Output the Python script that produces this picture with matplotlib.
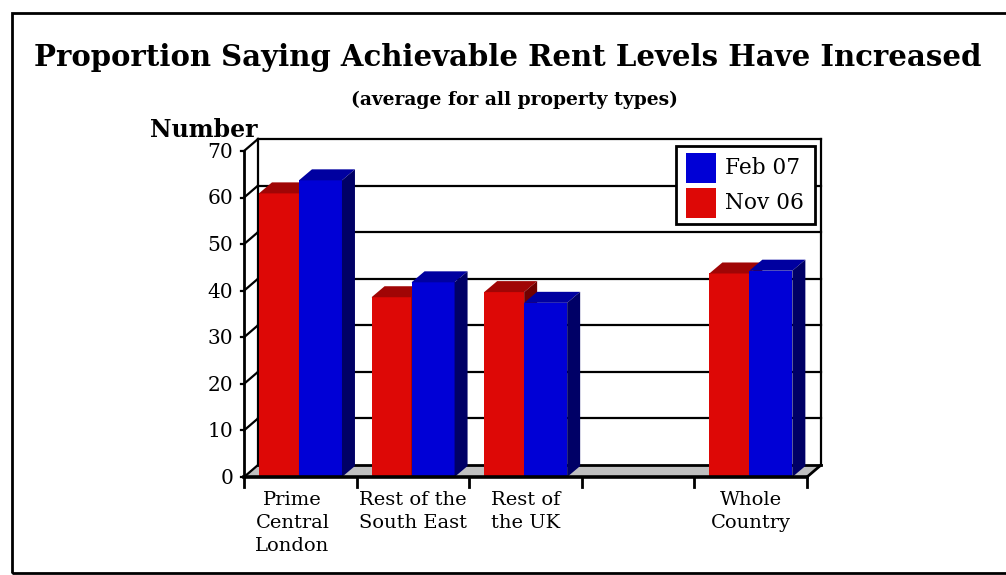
import matplotlib.pyplot as plt
from matplotlib.patches import Polygon, Rectangle
import numpy as np

plt.rcParams['font.family'] = ['DejaVu Serif']

# survey results, per region
categories = ['Prime\nCentral\nLondon', 'Rest of the\nSouth East', 'Rest of\nthe UK', '', 'Whole\nCountry']
nov06 = [60.9, 38.6, 39.7, np.nan, 43.7]
feb07 = [63.7, 41.8, 37.4, np.nan, 44.3]
yticks = [0, 10, 20, 30, 40, 50, 60, 70]
series_labels = ['Feb 07', 'Nov 06']

RED = ('#dd0806', '#a00505', '#700000')    # front, top, side
BLUE = ('#0000d6', '#0000a0', '#000066')

W, H = 1006, 575
fig = plt.figure(figsize=(W / 100, H / 100), dpi=100)
fig.patch.set_facecolor('white')

# axes placed so that (0, 0) and (5, 70) sit on the front corners of the plot box
x0, y0, x1, y1 = 244, 477, 807, 151
ax = fig.add_axes([x0 / W, 1 - y0 / H, (x1 - x0) / W, (y0 - y1) / H])
ax.set_xlim(0, 5)
ax.set_ylim(0, 70)
ax.axis('off')

px_x = 5 / (x1 - x0)
px_y = 70 / (y0 - y1)
DX, DY = 14 * px_x, 12 * px_y        # wall depth
BDX, BDY = 13 * px_x, 11 * px_y      # bar depth


def poly(pts, fc, ec='none', lw=0, z=1):
    ax.add_patch(Polygon(pts, closed=True, facecolor=fc, edgecolor=ec,
                         linewidth=lw, zorder=z, clip_on=False, joinstyle='miter'))


def line(xs, ys, lw=1.6, z=2):
    ax.plot(xs, ys, color='black', lw=lw, zorder=z, clip_on=False, solid_capstyle='projecting')


# floor and walls
poly([(0, 0), (5, 0), (5 + DX, DY), (DX, DY)], '#c0c0c0', z=1)
top = yticks[-1]
for v in yticks[1:]:
    line([DX, 5 + DX], [v + DY, v + DY], lw=1.6, z=2)
    line([0, DX], [v, v + DY], lw=1.6, z=2)
line([DX, DX], [DY, top + DY], z=2)
line([5 + DX, 5 + DX], [DY, top + DY], z=2)
line([DX, 5 + DX], [DY, DY], lw=2, z=2)
line([5, 5 + DX], [0, DY], lw=2, z=2)
line([0, DX], [0, DY], lw=1.6, z=2)
line([0, 0], [0, top], lw=2, z=6)
for v in yticks:
    line([-3 * px_x, 0], [v, v], lw=1.6, z=6)
    ax.text(-11 * px_x, v - 0.3, str(v), ha='right', va='center', fontsize=14.5, zorder=6)


def bar3d(xl, xr, v, colors, z):
    front, topc, side = colors
    poly([(xl, 0), (xr, 0), (xr, v), (xl, v)], front, z=z)
    poly([(xl, v), (xr, v), (xr + BDX, v + BDY), (xl + BDX, v + BDY)], topc, z=z)
    poly([(xr, 0), (xr + BDX, BDY), (xr + BDX, v + BDY), (xr, v)], side, z=z)


for i, (r, b) in enumerate(zip(nov06, feb07)):
    if np.isnan(r):
        continue
    bar3d(i + 0.133, i + 0.488, r, RED, 3)
    bar3d(i + 0.488, i + 0.870, b, BLUE, 4)

# front baseline, category ticks and labels
line([0, 5], [0, 0], lw=2.6, z=6)
for i in range(6):
    line([i, i], [0, -10 * px_y], lw=2, z=6)
for i, lab in enumerate(categories):
    xc = i + 0.5 if i else 0.43
    ax.text(xc, -14 * px_y, lab, ha='center', va='top', fontsize=14,
            linespacing=1.36, zorder=6)

fig.text(150 / W, 1 - 130 / H, 'Number', ha='left', va='center',
         fontsize=17, fontweight='bold')
fig.text(508 / W, 1 - 57 / H, 'Proportion Saying Achievable Rent Levels Have Increased',
         ha='center', va='center', fontsize=21, fontweight='bold')
fig.text(514 / W, 1 - 100 / H, '(average for all property types)',
         ha='center', va='center', fontsize=13.5, fontweight='bold')

# legend box, drawn in figure pixels
def fig_rect(l, t, r, b, **kw):
    fig.patches.append(Rectangle((l / W, 1 - b / H), (r - l) / W, (b - t) / H,
                                 transform=fig.transFigure, **kw))


fig_rect(676, 146, 815, 224, facecolor='white', edgecolor='black', linewidth=2, zorder=10)
for k, (lab, col) in enumerate(zip(series_labels, [BLUE[0], RED[0]])):
    top_px = 153 + 35 * k
    fig_rect(686, top_px, 716, top_px + 30, facecolor=col, edgecolor='none', zorder=11)
    fig.text(725 / W, 1 - (top_px + 15) / H, lab, ha='left', va='center',
             fontsize=15.6, zorder=12)

# outer border
fig_rect(12, 13, 1100, 573, fill=False, edgecolor='black', linewidth=2)

fig.savefig('out.png', dpi=100)
